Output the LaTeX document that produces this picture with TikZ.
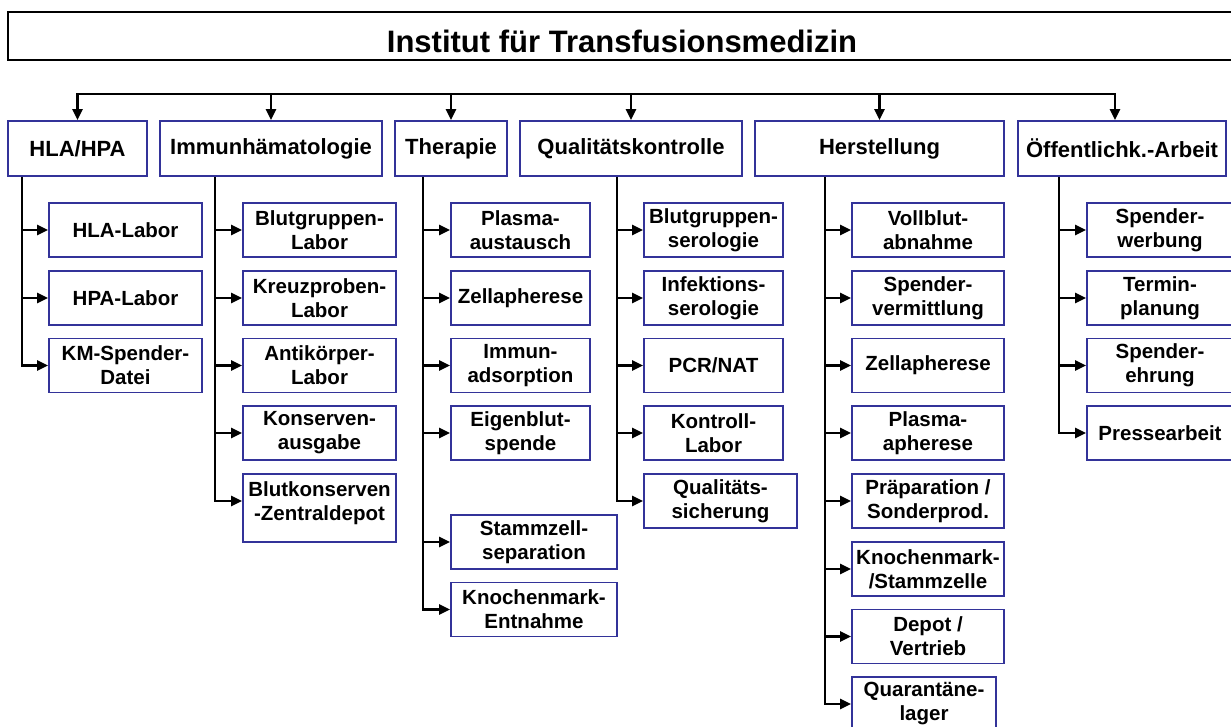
\documentclass[tikz,border=0pt]{standalone}
\usepackage{fontspec}
\setmainfont{Liberation Sans}
\usetikzlibrary{arrows.meta}
\definecolor{boxblue}{RGB}{51,51,153}
\begin{document}
\begin{tikzpicture}[x=1pt,y=-1pt,
  conn/.style={line width=2.6pt,black},
  arr/.style={conn,-{Triangle[length=11pt,width=10pt]}},
  hbox/.style={draw=boxblue,line width=1.8pt,minimum height=55pt,inner sep=0pt,
    font=\bfseries\fontsize{22}{26}\selectfont},
  cbox/.style={draw=boxblue,line width=1.8pt,minimum height=54pt,inner sep=0pt,
    align=center,font=\bfseries\fontsize{20.5}{24}\selectfont},
  titlebox/.style={draw=black,line width=2.5pt,minimum height=48pt,inner sep=0pt,
    font=\bfseries\fontsize{31}{36}\selectfont}]
\useasboundingbox (0,0) rectangle (1231,727);

% title
\node[titlebox,minimum width=1228pt] (title) at (622,36)
  {\raisebox{-5pt}[\height][\depth]{Institut für Transfusionsmedizin}};

% headers
\node[hbox,minimum width=139pt] (hla)   at (77.5,148.5) {HLA/HPA};
\node[hbox,minimum width=222pt] (imm)   at (271,148.5)  {Immunhämatologie};
\node[hbox,minimum width=112pt] (ther)  at (451,148.5)  {Therapie};
\node[hbox,minimum width=222pt] (qual)  at (631,148.5)  {Qualitätskontrolle};
\node[hbox,minimum width=249pt] (herst) at (879.5,148.5){Herstellung};
\node[hbox,minimum width=208pt] (oeff)  at (1122,148.5) {Öffentlichk.-Arbeit};

% bus
\coordinate (busmid) at (631,94);
\coordinate (busR) at (1115,94);
\draw[arr] (busmid) -| (hla.north);
\draw[arr] (busmid) -- (busR) -- (busR |- oeff.north);
\draw[arr] (busmid -| imm.north) -- (imm.north);
\draw[arr] (busmid -| ther.north) -- (ther.north);
\draw[arr] (busmid) -- (qual.north);
\draw[arr] (busmid -| herst.north) -- (herst.north);

% HLA/HPA children
\node[cbox,minimum width=153pt] (c11) at (125.5,230)   {HLA-Labor};
\node[cbox,minimum width=153pt] (c12) at (125.5,298)   {HPA-Labor};
\node[cbox,minimum width=153pt] (c13) at (125.5,365.5) {KM-Spender-\\Datei};

% Immunhaematologie children
\node[cbox,minimum width=153pt] (c21) at (319.5,230)   {Blutgruppen-\\Labor};
\node[cbox,minimum width=153pt] (c22) at (319.5,298)   {Kreuzproben-\\Labor};
\node[cbox,minimum width=153pt] (c23) at (319.5,365.5) {Antikörper-\\Labor};
\node[cbox,minimum width=153pt] (c24) at (319.5,433)   {Konserven-\\ausgabe};
\node[cbox,minimum width=153pt,minimum height=68pt] (c25) at (319.5,508)
  {Blutkonserven\\-Zentraldepot\\[-10pt]\mbox{}};

% Therapie children
\node[cbox,minimum width=139pt] (c31) at (520.5,230)   {Plasma-\\austausch};
\node[cbox,minimum width=139pt] (c32) at (520.5,298)   {Zellapherese};
\node[cbox,minimum width=139pt] (c33) at (520.5,365.5) {Immun-\\adsorption};
\node[cbox,minimum width=139pt] (c34) at (520.5,433)   {Eigenblut-\\spende};
\node[cbox,minimum width=166pt] (c35) at (534,542)     {Stammzell-\\separation};
\node[cbox,minimum width=166pt] (c36) at (534,609.5)   {Knochenmark-\\Entnahme};

% Qualitaetskontrolle children
\node[cbox,minimum width=139pt] (c41) at (713.5,230)   {Blutgruppen-\\serologie};
\node[cbox,minimum width=139pt] (c42) at (713.5,298)   {Infektions-\\serologie};
\node[cbox,minimum width=139pt] (c43) at (713.5,365.5) {PCR/NAT};
\node[cbox,minimum width=139pt] (c44) at (713.5,433)   {Kontroll-\\Labor};
\node[cbox,minimum width=153pt] (c45) at (720.5,501)   {Qualitäts-\\sicherung};

% Herstellung children
\node[cbox,minimum width=152pt] (c51) at (928,230)   {Vollblut-\\abnahme};
\node[cbox,minimum width=152pt] (c52) at (928,298)   {Spender-\\vermittlung};
\node[cbox,minimum width=152pt] (c53) at (928,365.5) {Zellapherese};
\node[cbox,minimum width=152pt] (c54) at (928,433)   {Plasma-\\apherese};
\node[cbox,minimum width=152pt] (c55) at (928,501)   {Präparation /\\Sonderprod.};
\node[cbox,minimum width=152pt] (c56) at (928,569)   {Knochenmark-\\/Stammzelle};
\node[cbox,minimum width=152pt] (c57) at (928,636.5) {Depot /\\Vertrieb};
\node[cbox,minimum width=144pt] (c58) at (924,704)   {Quarantäne-\\lager};

% Oeffentlichkeitsarbeit children
\node[cbox,minimum width=146pt] (c61) at (1160,230)   {Spender-\\werbung};
\node[cbox,minimum width=146pt] (c62) at (1160,298)   {Termin-\\planung};
\node[cbox,minimum width=146pt] (c63) at (1160,365.5) {Spender-\\ehrung};
\node[cbox,minimum width=146pt] (c64) at (1160,433)   {Pressearbeit};

% spines
\coordinate (sx1) at (22,150);
\coordinate (sx2) at (215,150);
\coordinate (sx3) at (423,150);
\coordinate (sx4) at (617,150);
\coordinate (sx5) at (825,150);
\coordinate (sx6) at (1059,150);

\draw[arr] (sx1 |- hla.south) |- (c13.west);
\draw[arr] (sx1 |- c11.west) -- (c11.west);
\draw[arr] (sx1 |- c12.west) -- (c12.west);

\draw[arr] (sx2 |- imm.south) |- ([yshift=7pt]c25.west);
\draw[arr] (sx2 |- c21.west) -- (c21.west);
\draw[arr] (sx2 |- c22.west) -- (c22.west);
\draw[arr] (sx2 |- c23.west) -- (c23.west);
\draw[arr] (sx2 |- c24.west) -- (c24.west);

\draw[arr] (sx3 |- ther.south) |- (c36.west);
\draw[arr] (sx3 |- c31.west) -- (c31.west);
\draw[arr] (sx3 |- c32.west) -- (c32.west);
\draw[arr] (sx3 |- c33.west) -- (c33.west);
\draw[arr] (sx3 |- c34.west) -- (c34.west);
\draw[arr] (sx3 |- c35.west) -- (c35.west);

\draw[arr] (sx4 |- qual.south) |- (c45.west);
\draw[arr] (sx4 |- c41.west) -- (c41.west);
\draw[arr] (sx4 |- c42.west) -- (c42.west);
\draw[arr] (sx4 |- c43.west) -- (c43.west);
\draw[arr] (sx4 |- c44.west) -- (c44.west);

\draw[arr] (sx5 |- herst.south) |- (c58.west);
\draw[arr] (sx5 |- c51.west) -- (c51.west);
\draw[arr] (sx5 |- c52.west) -- (c52.west);
\draw[arr] (sx5 |- c53.west) -- (c53.west);
\draw[arr] (sx5 |- c54.west) -- (c54.west);
\draw[arr] (sx5 |- c55.west) -- (c55.west);
\draw[arr] (sx5 |- c56.west) -- (c56.west);
\draw[arr] (sx5 |- c57.west) -- (c57.west);

\draw[arr] (sx6 |- oeff.south) |- (c64.west);
\draw[arr] (sx6 |- c61.west) -- (c61.west);
\draw[arr] (sx6 |- c62.west) -- (c62.west);
\draw[arr] (sx6 |- c63.west) -- (c63.west);
\end{tikzpicture}
\end{document}
